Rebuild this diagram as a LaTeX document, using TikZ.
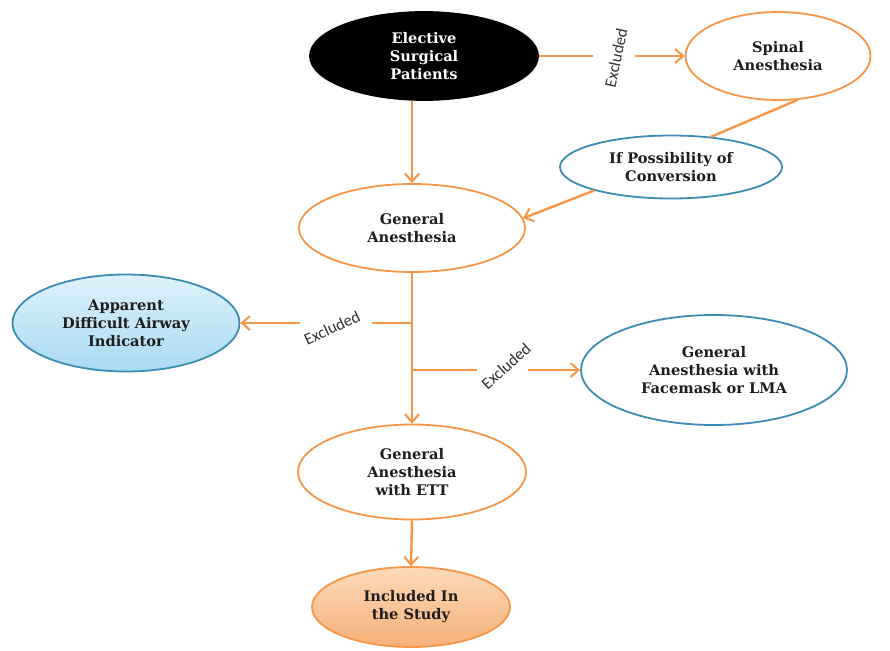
\documentclass[tikz,border=0pt]{standalone}
\usepackage{fontspec}
\setmainfont{DejaVu Serif}
\newfontfamily\lblfont{Carlito}
\usetikzlibrary{shapes.geometric,arrows.meta,calc}
\definecolor{orng}{RGB}{247,150,70}
\definecolor{blu}{RGB}{60,140,180}
\definecolor{txt}{RGB}{30,30,30}
\definecolor{lbl}{RGB}{50,50,50}
\begin{document}
\begin{tikzpicture}[x=1pt,y=-1pt,
  box/.style={ellipse, inner sep=0pt, align=center, text=txt,
    font=\bfseries\fontsize{14.6}{18}\selectfont, line width=1.8pt},
  obox/.style={box, draw=orng, fill=white},
  bbox/.style={box, draw=blu, fill=white},
  conn/.style={draw=orng, line width=2.4pt},
  arr/.style={conn, -{Straight Barb[length=8pt,width=14pt,line width=2pt]}},
  exl/.style={font=\lblfont\fontsize{16.5}{16.5}\selectfont, text=lbl, inner sep=1pt}]
\useasboundingbox (0,0) rectangle (890,650);
\fill[white] (0,0) rectangle (890,650);

\node[box, fill=black, draw=black, text=white, minimum width=228pt, minimum height=88pt] (elec) at (424,56) {Elective\\Surgical\\Patients};
\node[obox, minimum width=185pt, minimum height=88pt] (spin) at (778,56) {Spinal\\Anesthesia};
\node[bbox, minimum width=222pt, minimum height=63pt] (ifp) at (671,167) {If Possibility of\\Conversion};
\node[obox, minimum width=226pt, minimum height=88pt] (gen) at (412,228) {General\\Anesthesia};
\node[box, draw=blu, top color={rgb,255:red,222;green,242;blue,251}, bottom color={rgb,255:red,170;green,218;blue,242}, minimum width=227pt, minimum height=97pt] (app) at (126,323) {Apparent\\Difficult Airway\\Indicator};
\node[bbox, minimum width=266pt, minimum height=110pt] (fm) at (714,370) {General\\Anesthesia with\\Facemask or LMA};
\node[obox, minimum width=228pt, minimum height=95pt] (ett) at (412,472) {General\\Anesthesia\\with ETT};
\node[box, draw=orng, top color={rgb,255:red,252;green,218;blue,186}, bottom color={rgb,255:red,246;green,176;blue,120}, minimum width=198pt, minimum height=80pt] (inc) at (411,607) {Included In\\the Study};

% top: elective -> spinal
\coordinate (t1) at (593,56);
\coordinate (t2) at (635,56);
\draw[conn] (elec.east) -- (t1);
\draw[arr] (t2) -- (spin.west);
\node[exl, rotate=78] (lt) at (616,58) {Excluded};

% elective -> general
\draw[arr] (elec.south -| gen.north) -- (gen.north);

% spinal -> if -> general
\draw[conn] (spin.-66) -- (ifp.37);
\draw[arr] (ifp.197) -- (gen.5);

% trunk general -> ett
\draw[arr] (gen.south) -- (ett.north);

% branch 1
\coordinate (y1) at (0,323);
\coordinate (b1) at (gen.south |- y1);
\coordinate (b1a) at (372,323);
\coordinate (b1b) at (300,323);
\draw[conn] (b1) -- (b1a);
\draw[arr] (b1b) -- (app.east);
\node[exl, rotate=25] (l1) at (332,328) {Excluded};

% branch 2
\coordinate (y2) at (0,370);
\coordinate (b2) at (gen.south |- y2);
\coordinate (b2a) at (477,370);
\coordinate (b2b) at (528,370);
\draw[conn] (b2) -- (b2a);
\draw[arr] (b2b) -- (fm.west);
\node[exl, rotate=42] (l2) at (506,366) {Excluded};

% ett -> included
\draw[arr] (ett.south) -- (inc.north);
\end{tikzpicture}
\end{document}
